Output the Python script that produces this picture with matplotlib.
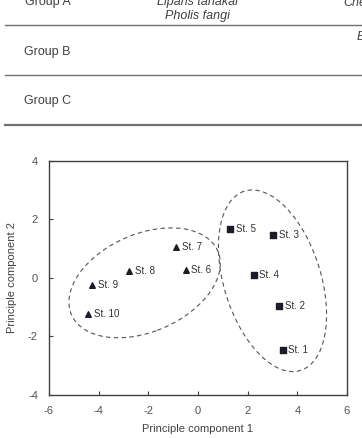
import matplotlib.pyplot as plt
from matplotlib.patches import Ellipse
from matplotlib.lines import Line2D

plt.rcParams['font.family'] = ['Liberation Sans', 'DejaVu Sans']
plt.rcParams['axes.unicode_minus'] = False

# station scores on the first two principal components
group1_names = ["St. 1", "St. 2", "St. 3", "St. 4", "St. 5"]
group1_pc1 = [3.41, 3.26, 3.02, 2.24, 1.29]
group1_pc2 = [-2.45, -0.96, 1.47, 0.10, 1.67]

group2_names = ["St. 6", "St. 7", "St. 8", "St. 9", "St. 10"]
group2_pc1 = [-0.49, -0.87, -2.76, -4.25, -4.42]
group2_pc2 = [0.27, 1.05, 0.23, -0.25, -1.22]

# dashed group outlines (centre, width, height, angle)
left_ell = ((-2.15, -0.17), 6.3, 3.4, 17.4)
right_ell = ((3.0, -0.1), 3.83, 6.54, 23.0)

W, H = 362, 438
fig = plt.figure(figsize=(W / 100, H / 100), dpi=100)

# bits of the table above the chart (cut off in the reference)
txt = "#404040"
for y in [25, 75, 125]:
    lw = 1.6 if y == 125 else 1.0
    fig.add_artist(Line2D([5 / W, 1], [1 - y / H, 1 - y / H], color="#707070", lw=lw))
fig.text(25 / W, 1 - 2 / H, "Group A", fontsize=9, color=txt, va="center")
fig.text(24 / W, 1 - 52 / H, "Group B", fontsize=9, color=txt, va="center")
fig.text(24 / W, 1 - 101 / H, "Group C", fontsize=9, color=txt, va="center")
fig.text(197 / W, 1 - 2 / H, "Liparis tanakai", fontsize=9, color=txt,
         style="italic", ha="center", va="center")
fig.text(197 / W, 1 - 16 / H, "Pholis fangi", fontsize=9, color=txt,
         style="italic", ha="center", va="center")
fig.text(343 / W, 1 - 3 / H, "Che", fontsize=9, color=txt, style="italic", va="center")
fig.text(357 / W, 1 - 37 / H, "E", fontsize=9, color=txt, style="italic", va="center")

ax = fig.add_axes([49 / W, 1 - 395 / H, 298 / W, 234.3 / H])

mk = "#1c1c28"
ax.scatter(group1_pc1, group1_pc2, marker="s", s=14, color=mk, zorder=3)
ax.scatter(group2_pc1, group2_pc2, marker="^", s=16, color=mk, zorder=3)
for n, x, y in zip(group1_names + group2_names, group1_pc1 + group2_pc1,
                   group1_pc2 + group2_pc2):
    ax.annotate(n, (x, y), xytext=(4, 0), textcoords="offset points",
                fontsize=7, color="#303030", va="center")

for (c, w, h, a) in [left_ell, right_ell]:
    ax.add_patch(Ellipse(c, w, h, angle=a, fill=False, ls=(0, (4, 3)),
                         lw=0.8, color="#555555"))

ax.set_xlim(-6, 6)
ax.set_ylim(-4, 4)
ax.set_xticks([-6, -4, -2, 0, 2, 4, 6])
ax.set_yticks([-4, -2, 0, 2, 4])
ax.tick_params(labelsize=8, labelcolor="#505050", color="#404040",
               direction="in", length=3, width=0.8, pad=8)
for sp in ax.spines.values():
    sp.set_color("#404040")
    sp.set_linewidth(1.0)
ax.set_xlabel("Principle component 1", fontsize=8, color="#404040", labelpad=6)
ax.set_ylabel("Principle component 2", fontsize=8, color="#404040", labelpad=8)

fig.savefig("out.png", dpi=100)
